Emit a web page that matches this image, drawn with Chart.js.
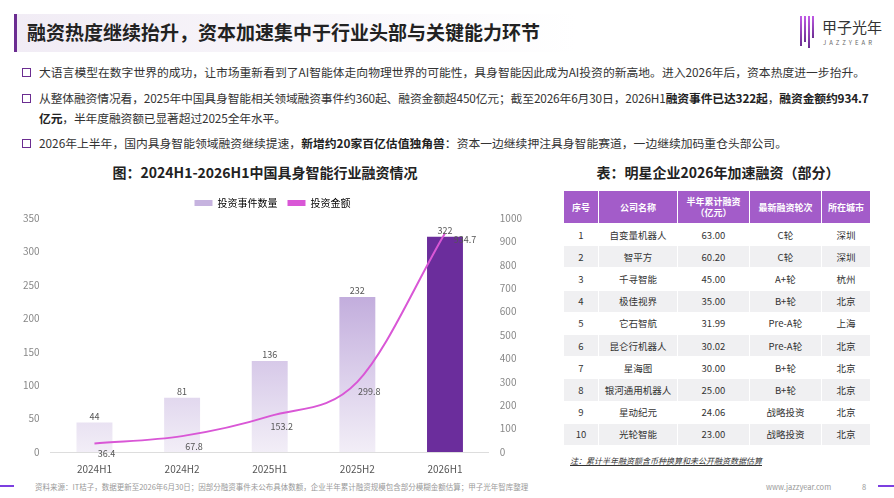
<!DOCTYPE html>
<html><head><meta charset="utf-8">
<script src="https://cdn.jsdelivr.net/npm/chart.js@4"></script>
<style>
body{margin:0;width:894px;height:498px;position:relative;background:#fff;font-family:"Noto Sans CJK SC","Noto Sans",sans-serif;color:#333;overflow:hidden}
.tbar{position:absolute;left:14px;top:14px;width:560px;height:38px;border-left:3px solid #6b2d91;background:linear-gradient(90deg,#f1ecf5,#fff);}
.tbar span{position:absolute;left:10px;top:4px;font-size:19px;font-weight:bold;color:#222}
.logo{position:absolute;left:800px;top:16px;width:90px;height:34px}
.bar{position:absolute;top:0;width:2px;background:linear-gradient(#c05ae6,#6b2d91)}
.logo .t{position:absolute;left:22px;top:0;font-size:15px;color:#333;white-space:nowrap}
.logo .s{position:absolute;left:23px;top:22px;font-size:6px;letter-spacing:3px;color:#666}
.p{position:absolute;left:22px;font-size:11.8px;line-height:20px;color:#333;width:860px;white-space:nowrap}
.p:before{content:"";position:absolute;left:0;top:6px;width:7px;height:7px;border:1.5px solid #6b2d91}
.p div{margin-left:17px}
b{font-weight:bold;color:#222}
.ct{position:absolute;left:0;width:530px;top:162px;text-align:center;font-weight:bold;font-size:14px;color:#222}
.tt{position:absolute;left:563px;width:310px;top:162px;text-align:center;font-weight:bold;font-size:14px;color:#222}
table{position:absolute;left:563px;top:190px;width:308px;border-collapse:separate;border-spacing:1px;font-size:9.5px;text-align:center}
th{background:#a35cc9;color:#fff;height:30px;font-weight:bold;font-size:9px;line-height:11px}
td{height:21.2px;color:#333;padding:0}
tr:nth-child(odd) td{background:#f0f0f2}
.note{position:absolute;left:570px;top:455px;font-size:8px;font-style:italic;text-decoration:underline;color:#333}
.foot{position:absolute;top:481px;font-size:7.5px;color:#999}
#wrap{position:absolute;left:0;top:188px;width:535px;height:290px}
</style></head><body>
<div class="tbar"><span>融资热度继续抬升，资本加速集中于行业头部与关键能力环节</span></div>
<div class="logo"><div class="bar" style="left:0;height:30px"></div><div class="bar" style="left:4px;height:26px"></div><div class="bar" style="left:8px;height:32px"></div><div class="bar" style="left:12px;height:22px"></div><div class="t">甲子光年</div><div class="s">JAZZYEAR</div></div>
<div class="p" style="top:62px"><div>大语言模型在数字世界的成功，让市场重新看到了AI智能体走向物理世界的可能性，具身智能因此成为AI投资的新高地。进入2026年后，资本热度进一步抬升。</div></div>
<div class="p" style="top:88px"><div style="letter-spacing:-0.15px">从整体融资情况看，2025年中国具身智能相关领域融资事件约360起、融资金额超450亿元；截至2026年6月30日，2026H1<b>融资事件已达322起</b>，<b>融资金额约934.7<br>亿元</b>，半年度融资额已显著超过2025全年水平。</div></div>
<div class="p" style="top:133px"><div>2026年上半年，国内具身智能领域融资继续提速，<b>新增约20家百亿估值独角兽</b>：资本一边继续押注具身智能赛道，一边继续加码重仓头部公司。</div></div>
<div class="ct">图：2024H1-2026H1中国具身智能行业融资情况</div>
<div class="tt">表：明星企业2026年加速融资（部分）</div>
<div id="wrap"><canvas id="c"></canvas></div>
<table id="tb"></table>
<div class="note">注：累计半年融资额含币种换算和未公开融资数据估算</div>
<div style="position:absolute;left:0;top:485px;width:14px;height:2px;background:#7c3fe0"></div>
<div class="foot" style="left:35px">资料来源：IT桔子，数据更新至2026年6月30日；因部分融资事件未公布具体数额，企业半年累计融资规模包含部分模糊金额估算；甲子光年智库整理</div>
<div class="foot" style="left:766px">www.jazzyear.com</div>
<div class="foot" style="left:862px">8</div>
<div style="position:absolute;left:878px;top:485px;width:16px;height:2px;background:#7c3fe0"></div>
<script>
const categories=["2024H1","2024H2","2025H1","2025H2","2026H1"];
const eventCounts=[44,81,136,232,322];
const amounts=[36.4,67.8,153.2,299.8,934.7];
const tableHead=["序号","公司名称","半年累计融资<br>（亿元）","最新融资轮次","所在城市"];
const companies=["自变量机器人","智平方","千寻智能","极佳视界","它石智航","昆仑行机器人","星海图","银河通用机器人","星动纪元","光轮智能"];
const funding=["63.00","60.20","45.00","35.00","31.99","30.02","30.00","25.00","24.06","23.00"];
const rounds=["C轮","C轮","A+轮","B+轮","Pre-A轮","Pre-A轮","B+轮","B+轮","战略投资","战略投资"];
const cities=["深圳","深圳","杭州","北京","上海","北京","北京","北京","北京","北京"];
let h='<tr>'+tableHead.map(x=>'<th>'+x+'</th>').join('')+'</tr>';
companies.forEach((c,i)=>{h+='<tr><td style="width:34px">'+(i+1)+'</td><td style="width:78px">'+c+'</td><td>'+funding[i]+'</td><td>'+rounds[i]+'</td><td>'+cities[i]+'</td></tr>';});
document.getElementById('tb').innerHTML=h;

const F='"Noto Sans CJK SC",serif';
const labels={id:'lbl',afterDatasetsDraw(ch){const x=ch.ctx;x.save();x.font='9px '+F;x.fillStyle='#555';x.textAlign='center';
 ch.getDatasetMeta(0).data.forEach((b,i)=>{x.fillText(eventCounts[i],b.x,b.y-6)});
 ch.getDatasetMeta(1).data.forEach((p,i)=>{let dx=i==4?20:12,dy=i==4?6:10;x.fillText(amounts[i],p.x+dx,p.y+dy)});x.restore();}};
new Chart(document.getElementById('c'),{
 data:{labels:categories,datasets:[
  {type:'bar',label:'投资事件数量',data:eventCounts,yAxisID:'y',order:2,barPercentage:0.41,categoryPercentage:1,
   backgroundColor:(c)=>{const a=c.chart.chartArea;if(!a)return '#b9a0d8';if(c.dataIndex===4)return '#6b2d9c';const g=c.chart.ctx.createLinearGradient(0,a.top,0,a.bottom);g.addColorStop(0,'#a98bce');g.addColorStop(0.6,'#d6c8e8');g.addColorStop(1,'#f2eef7');return g;}},
  {type:'line',label:'投资金额',data:amounts,yAxisID:'y1',order:1,borderColor:'#d957d6',backgroundColor:'#d957d6',borderWidth:2,pointRadius:0,cubicInterpolationMode:'monotone'}]},
 options:{responsive:true,maintainAspectRatio:false,animation:false,
  layout:{padding:{left:20,right:10,top:0,bottom:0}},
  plugins:{legend:{labels:{font:{family:F,size:10},color:'#555',boxWidth:18,boxHeight:6,
    generateLabels:(ch)=>[{text:'投资事件数量',fillStyle:'#c6b3df',strokeStyle:'#c6b3df',lineWidth:0,datasetIndex:0},{text:'投资金额',fillStyle:'#d957d6',strokeStyle:'#d957d6',lineWidth:0,datasetIndex:1}]}},tooltip:{enabled:false}},
  scales:{x:{grid:{display:false},border:{color:'#ddd'},ticks:{font:{family:F,size:10},color:'#555'}},
   y:{min:0,max:350,ticks:{stepSize:50,font:{family:F,size:10},color:'#888'},grid:{display:false},border:{display:false}},
   y1:{position:'right',min:0,max:1000,ticks:{stepSize:100,font:{family:F,size:10},color:'#888',callback:v=>String(v)},grid:{display:false},border:{display:false}}}},
 plugins:[labels]});
</script></body></html>
